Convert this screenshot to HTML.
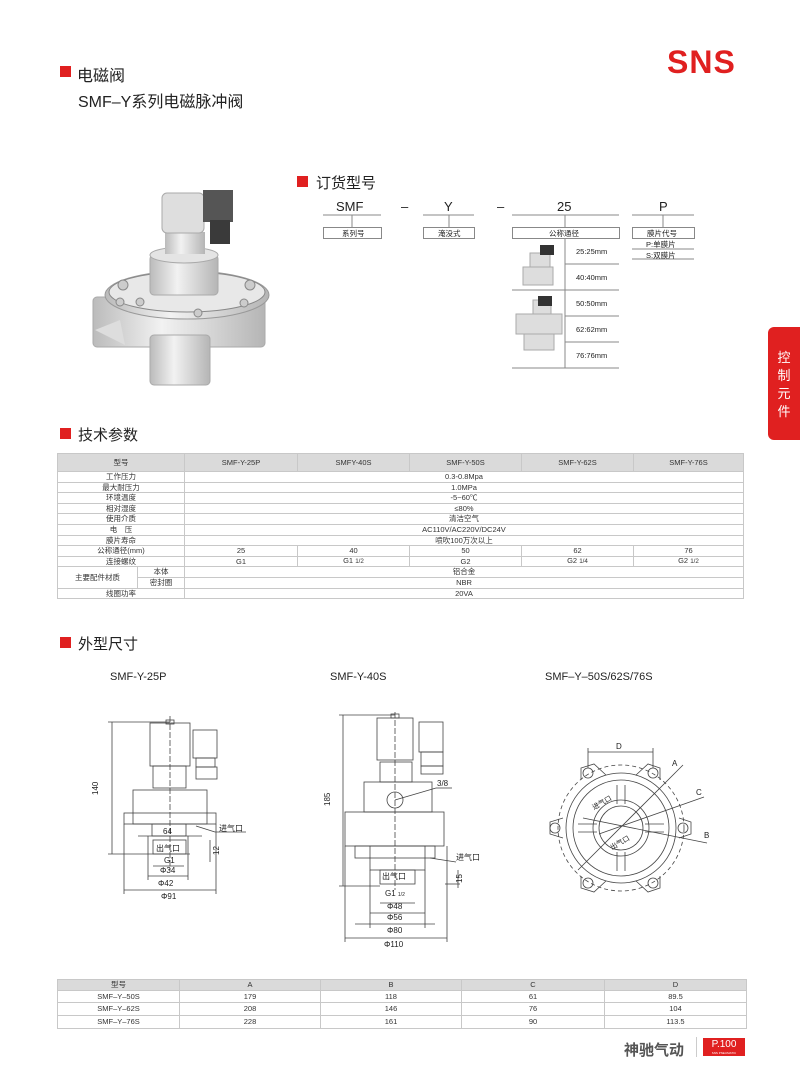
<!DOCTYPE html>
<html><head><meta charset="utf-8"><style>
*{margin:0;padding:0;box-sizing:border-box}
body{width:800px;height:1086px;position:relative;background:#fff;font-family:"Liberation Sans","Noto Sans CJK SC",sans-serif;color:#222;overflow:hidden}
.a{position:absolute;white-space:nowrap}
.sq{position:absolute;width:11px;height:11px;background:#e02020}
.h{font-size:15px;color:#222}
table{border-collapse:collapse;position:absolute;font-size:7.5px;color:#333;table-layout:fixed}
td{border:1px solid #c8c8c8;text-align:center;padding:0;line-height:1}
.hd td{background:#dadada}
</style></head><body>
<div class="sq" style="left:60px;top:66px"></div>
<div class="a h" style="left:77px;top:62px;font-size:16px">电磁阀</div>
<div class="a h" style="left:78px;top:88px;font-size:16px">SMF–Y系列电磁脉冲阀</div>
<div class="a" style="left:667px;top:44px;font-size:32px;font-weight:bold;color:#e02020;letter-spacing:1px">SNS</div>
<div class="a" style="left:768px;top:327px;width:32px;height:113px;background:#e02020;border-radius:6px 0 0 6px;color:#fff;font-size:13px;line-height:18px;text-align:center;padding-top:22px;white-space:normal">控<br>制<br>元<br>件</div>

<!-- product photo -->
<svg class="a" style="left:0;top:0" width="300" height="400">
<defs><linearGradient id="g" x1="0" x2="1"><stop offset="0" stop-color="#bbb"/><stop offset="0.4" stop-color="#f2f2f2"/><stop offset="1" stop-color="#b5b5b5"/></linearGradient></defs>
<rect x="93" y="297" width="172" height="50" rx="4" fill="url(#g)" stroke="#aaa"/>
<path d="M95 330 L120 320 L125 345 Z" fill="#ddd"/>
<rect x="150" y="335" width="60" height="50" rx="4" fill="url(#g)" stroke="#aaa"/>
<ellipse cx="187" cy="295" rx="82" ry="24" fill="url(#g)" stroke="#999"/>
<ellipse cx="187" cy="292" rx="78" ry="20" fill="#e8e8e8" stroke="#888"/>
<rect x="150" y="255" width="68" height="40" rx="4" fill="url(#g)" stroke="#aaa"/>
<ellipse cx="184" cy="255" rx="34" ry="8" fill="#e4e4e4" stroke="#aaa"/>
<rect x="165" y="232" width="40" height="22" fill="url(#g)"/>
<rect x="162" y="193" width="42" height="40" rx="5" fill="#dedede" stroke="#aaa"/>
<rect x="203" y="190" width="30" height="32" fill="#555"/>
<rect x="210" y="220" width="20" height="24" fill="#3a3a3a"/>
<g fill="#ccc" stroke="#888"><circle cx="123" cy="285" r="5"/><circle cx="250" cy="285" r="5"/><circle cx="140" cy="302" r="4"/><circle cx="198" cy="313" r="4"/><circle cx="244" cy="303" r="4"/><circle cx="120" cy="302" r="4"/></g>
</svg>

<div class="sq" style="left:297px;top:176px"></div>
<div class="a h" style="left:316px;top:172px">订货型号</div>
<div class="a" style="left:336px;top:199px;font-size:13px">SMF</div>
<div class="a" style="left:401px;top:199px;font-size:13px">–</div>
<div class="a" style="left:444px;top:199px;font-size:13px">Y</div>
<div class="a" style="left:497px;top:199px;font-size:13px">–</div>
<div class="a" style="left:557px;top:199px;font-size:13px">25</div>
<div class="a" style="left:659px;top:199px;font-size:13px">P</div>
<svg class="a" style="left:0;top:0" width="800" height="400">
<g stroke="#888" fill="none" stroke-width="1">
<line x1="323" y1="215" x2="381" y2="215"/><line x1="352" y1="215" x2="352" y2="227"/><rect x="323.5" y="227.5" width="58" height="11"/>
<line x1="423" y1="215" x2="474" y2="215"/><line x1="449" y1="215" x2="449" y2="227"/><rect x="423.5" y="227.5" width="51" height="11"/>
<line x1="512" y1="215" x2="619" y2="215"/><line x1="565" y1="215" x2="565" y2="227"/><rect x="512.5" y="227.5" width="107" height="11"/>
<line x1="632" y1="215" x2="694" y2="215"/><line x1="663" y1="215" x2="663" y2="227"/><rect x="632.5" y="227.5" width="62" height="11"/>
<line x1="632" y1="249" x2="694" y2="249"/><line x1="632" y1="259" x2="694" y2="259"/>
<line x1="565" y1="238" x2="565" y2="368"/>
<line x1="565" y1="264" x2="619" y2="264"/><line x1="512" y1="290" x2="619" y2="290"/>
<line x1="565" y1="316" x2="619" y2="316"/><line x1="565" y1="342" x2="619" y2="342"/>
<line x1="512" y1="368" x2="619" y2="368"/>
</g>
<g fill="#ddd" stroke="#aaa"><rect x="530" y="253" width="20" height="14"/><rect x="523" y="267" width="30" height="18"/>
<rect x="533" y="300" width="18" height="14"/><rect x="516" y="314" width="46" height="20"/><rect x="524" y="334" width="30" height="16"/></g>
<g fill="#333"><rect x="540" y="245" width="14" height="10"/><rect x="538" y="296" width="14" height="10"/></g>
</svg>
<div class="a" style="left:342px;top:228px;font-size:7.5px">系列号</div>
<div class="a" style="left:438px;top:228px;font-size:7.5px">淹没式</div>
<div class="a" style="left:549px;top:228px;font-size:7.5px">公称通径</div>
<div class="a" style="left:647px;top:228px;font-size:7.5px">膜片代号</div>
<div class="a" style="left:646px;top:239px;font-size:7.5px">P:单膜片</div>
<div class="a" style="left:646px;top:250px;font-size:7.5px">S:双膜片</div>
<div class="a" style="left:576px;top:247px;font-size:7.5px">25:25mm</div>
<div class="a" style="left:576px;top:273px;font-size:7.5px">40:40mm</div>
<div class="a" style="left:576px;top:299px;font-size:7.5px">50:50mm</div>
<div class="a" style="left:576px;top:325px;font-size:7.5px">62:62mm</div>
<div class="a" style="left:576px;top:351px;font-size:7.5px">76:76mm</div>

<div class="sq" style="left:60px;top:428px"></div>
<div class="a h" style="left:78px;top:424px">技术参数</div>
<table style="left:57px;top:453px;width:686px">
<colgroup><col style="width:80px"><col style="width:47px"><col style="width:113px"><col style="width:112px"><col style="width:112px"><col style="width:112px"><col style="width:110px"></colgroup>
<tr class="hd" style="height:18px"><td colspan="2">型号</td><td>SMF-Y-25P</td><td>SMFY-40S</td><td>SMF-Y-50S</td><td>SMF-Y-62S</td><td>SMF-Y-76S</td></tr>
<tr style="height:10.6px"><td colspan="2">工作压力</td><td colspan="5">0.3-0.8Mpa</td></tr>
<tr style="height:10.6px"><td colspan="2">最大耐压力</td><td colspan="5">1.0MPa</td></tr>
<tr style="height:10.6px"><td colspan="2">环境温度</td><td colspan="5">-5~60℃</td></tr>
<tr style="height:10.6px"><td colspan="2">相对湿度</td><td colspan="5">≤80%</td></tr>
<tr style="height:10.6px"><td colspan="2">使用介质</td><td colspan="5">清洁空气</td></tr>
<tr style="height:10.6px"><td colspan="2">电　压</td><td colspan="5">AC110V/AC220V/DC24V</td></tr>
<tr style="height:10.6px"><td colspan="2">膜片寿命</td><td colspan="5">喷吹100万次以上</td></tr>
<tr style="height:10.6px"><td colspan="2">公称通径(mm)</td><td>25</td><td>40</td><td>50</td><td>62</td><td>76</td></tr>
<tr style="height:10.6px"><td colspan="2">连接螺纹</td><td>G1</td><td>G1 <small>1/2</small></td><td>G2</td><td>G2 <small>1/4</small></td><td>G2 <small>1/2</small></td></tr>
<tr style="height:10.6px"><td rowspan="2">主要配件材质</td><td>本体</td><td colspan="5">铝合金</td></tr>
<tr style="height:10.6px"><td>密封圈</td><td colspan="5">NBR</td></tr>
<tr style="height:10.6px"><td colspan="2">线圈功率</td><td colspan="5">20VA</td></tr>
</table>

<div class="sq" style="left:60px;top:637px"></div>
<div class="a h" style="left:78px;top:633px">外型尺寸</div>
<div class="a" style="left:110px;top:671px;font-size:11px">SMF-Y-25P</div>
<div class="a" style="left:330px;top:671px;font-size:11px">SMF-Y-40S</div>
<div class="a" style="left:545px;top:671px;font-size:11px">SMF–Y–50S/62S/76S</div>

<svg class="a" style="left:0;top:0" width="800" height="980" font-family="Liberation Sans, Noto Sans CJK SC, sans-serif" font-size="8" fill="#222">
<g stroke="#444" fill="none" stroke-width="0.8">
<rect x="150" y="723" width="40" height="43"/><rect x="166" y="720" width="8" height="4"/>
<rect x="193" y="730" width="24" height="28"/><rect x="196" y="758" width="19" height="9"/><rect x="196" y="767" width="21" height="12"/>
<rect x="153" y="766" width="33" height="22"/>
<rect x="133" y="790" width="74" height="34"/><rect x="124" y="813" width="92" height="11"/>
<rect x="152" y="824" width="34" height="12"/>
<line x1="112" y1="722" x2="112" y2="854"/><line x1="108" y1="722" x2="170" y2="722"/><line x1="108" y1="854" x2="190" y2="854"/>
<line x1="124" y1="824" x2="124" y2="894"/><line x1="216" y1="824" x2="216" y2="894"/>
<line x1="124" y1="890" x2="216" y2="890"/><line x1="148" y1="876" x2="188" y2="876"/><line x1="153" y1="866" x2="184" y2="866"/>
<line x1="148" y1="836" x2="148" y2="880"/><line x1="188" y1="836" x2="188" y2="880"/>
<rect x="153" y="840" width="33" height="14"/>
<line x1="138" y1="836" x2="202" y2="836"/><line x1="210" y1="840" x2="210" y2="862"/>
<line x1="196" y1="826" x2="215" y2="832"/><line x1="215" y1="832" x2="246" y2="832"/>
<line x1="170" y1="716" x2="170" y2="870" stroke-dasharray="6 2"/>
<rect x="377" y="718" width="36" height="42"/><rect x="391" y="714" width="8" height="4"/>
<rect x="419" y="722" width="24" height="30"/><rect x="421" y="752" width="22" height="14"/><rect x="421" y="766" width="22" height="8"/>
<rect x="380" y="762" width="32" height="20"/>
<rect x="364" y="782" width="68" height="30"/><circle cx="395" cy="800" r="8"/>
<rect x="345" y="812" width="99" height="34"/><rect x="355" y="846" width="80" height="12"/>
<rect x="370" y="846" width="55" height="24"/><rect x="380" y="870" width="35" height="14"/>
<line x1="343" y1="715" x2="343" y2="886"/><line x1="339" y1="715" x2="395" y2="715"/><line x1="339" y1="886" x2="380" y2="886"/>
<line x1="345" y1="846" x2="345" y2="942"/><line x1="447" y1="846" x2="447" y2="942"/>
<line x1="345" y1="938" x2="447" y2="938"/><line x1="355" y1="924" x2="435" y2="924"/><line x1="370" y1="913" x2="425" y2="913"/><line x1="380" y1="903" x2="415" y2="903"/>
<line x1="370" y1="870" x2="370" y2="928"/><line x1="425" y1="870" x2="425" y2="928"/>
<line x1="395" y1="800" x2="436" y2="788"/><line x1="436" y1="788" x2="452" y2="788"/>
<line x1="430" y1="858" x2="456" y2="862"/><line x1="445" y1="884" x2="460" y2="884"/><line x1="458" y1="870" x2="458" y2="888"/>
<line x1="395" y1="712" x2="395" y2="890" stroke-dasharray="6 2"/>
<circle cx="621" cy="828" r="63" stroke-dasharray="4 3"/>
<circle cx="621" cy="828" r="55"/><circle cx="621" cy="828" r="48"/>
<circle cx="621" cy="828" r="28"/><circle cx="621" cy="828" r="22"/>
<circle cx="588" cy="773" r="5"/><circle cx="653" cy="773" r="5"/><circle cx="555" cy="828" r="5"/><circle cx="683" cy="828" r="5"/><circle cx="588" cy="883" r="5"/><circle cx="653" cy="883" r="5"/>
<path d="M581 780 L581 768 L594 764 L606 775 M636 775 L648 764 L660 768 L660 780"/>
<path d="M581 876 L581 888 L594 892 L606 881 M636 881 L648 892 L660 888 L660 876"/>
<path d="M563 818 L550 822 L550 834 L563 838 M679 818 L691 822 L691 834 L679 838"/>
<line x1="617" y1="785" x2="617" y2="804"/><line x1="625" y1="785" x2="625" y2="804"/>
<line x1="617" y1="852" x2="617" y2="871"/><line x1="625" y1="852" x2="625" y2="871"/>
<line x1="578" y1="824" x2="597" y2="824"/><line x1="578" y1="832" x2="597" y2="832"/>
<line x1="645" y1="824" x2="664" y2="824"/><line x1="645" y1="832" x2="664" y2="832"/>
<line x1="588" y1="752" x2="653" y2="752"/><line x1="588" y1="748" x2="588" y2="768"/><line x1="653" y1="748" x2="653" y2="768"/>
<line x1="578" y1="870" x2="683" y2="765"/><line x1="583" y1="818" x2="707" y2="843"/><line x1="599" y1="834" x2="704" y2="797"/>
</g>
<text x="98" y="795" transform="rotate(-90 98 795)">140</text>
<text x="163" y="834">64</text><text x="219" y="831">进气口</text>
<text x="156" y="851">出气口</text><text x="164" y="863">G1</text><text x="160" y="873">Φ34</text><text x="158" y="886">Φ42</text><text x="161" y="899">Φ91</text>
<text x="219" y="855" transform="rotate(-90 219 855)">12</text>
<text x="330" y="806" transform="rotate(-90 330 806)">185</text>
<text x="437" y="786">3/8</text><text x="456" y="860">进气口</text>
<text x="382" y="879">出气口</text><text x="385" y="896">G1 <tspan font-size="5">1/2</tspan></text>
<text x="387" y="909">Φ48</text><text x="387" y="920">Φ56</text><text x="387" y="933">Φ80</text><text x="384" y="947">Φ110</text>
<text x="462" y="883" transform="rotate(-90 462 883)">15</text>
<text x="616" y="749">D</text><text x="672" y="766">A</text><text x="696" y="795">C</text><text x="704" y="838">B</text>
<text x="594" y="810" font-size="7" transform="rotate(-30 594 810)">进气口</text>
<text x="612" y="850" font-size="7" transform="rotate(-30 612 850)">出气口</text>
</svg>

<table style="left:57px;top:979px;width:689px">
<colgroup><col style="width:122px"><col style="width:141px"><col style="width:141px"><col style="width:143px"><col style="width:142px"></colgroup>
<tr class="hd" style="height:11px"><td>型号</td><td>A</td><td>B</td><td>C</td><td>D</td></tr>
<tr style="height:12px"><td>SMF–Y–50S</td><td>179</td><td>118</td><td>61</td><td>89.5</td></tr>
<tr style="height:13px"><td>SMF–Y–62S</td><td>208</td><td>146</td><td>76</td><td>104</td></tr>
<tr style="height:13px"><td>SMF–Y–76S</td><td>228</td><td>161</td><td>90</td><td>113.5</td></tr>
</table>
<div class="a" style="left:624px;top:1039px;font-size:15px;font-weight:bold;color:#555">神驰气动</div>
<div class="a" style="left:696px;top:1037px;width:1px;height:20px;background:#ccc"></div>
<div class="a" style="left:703px;top:1038px;width:42px;height:18px;background:#e02020;color:#fff;font-size:10px;text-align:center;line-height:13px">P.100<div style="font-size:3px;line-height:4px">SNS PNEUMATIC</div></div>
</body></html>
